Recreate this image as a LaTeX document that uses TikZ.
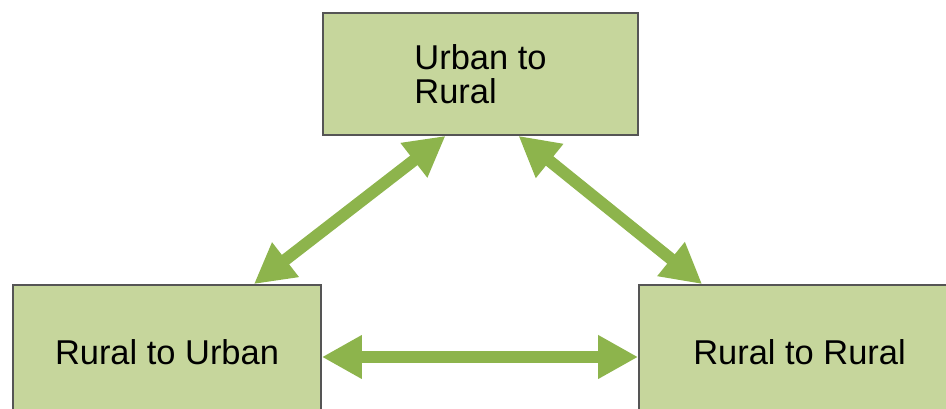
\documentclass[tikz,border=0pt]{standalone}
\usepackage{fontspec}
\setmainfont{Liberation Sans}
\usepackage{tikz}
\usetikzlibrary{arrows.meta,positioning,calc}
\definecolor{boxgreen}{RGB}{198,214,156}
\definecolor{arrowgreen}{RGB}{141,180,76}
\definecolor{edgegray}{RGB}{85,85,85}
\tikzset{
  area/.style={draw=edgegray, line width=1pt, fill=boxgreen, inner sep=0pt,
    font=\fontsize{19.6}{19.5}\selectfont},
  flow/.style={draw=arrowgreen, line width=0.24cm,
    {Triangle[width=0.82cm,length=0.8cm]}-{Triangle[width=0.82cm,length=0.8cm]},
    shorten <=0pt, shorten >=0pt}
}

\begin{document}
\begin{tikzpicture}
  \useasboundingbox (0,0) rectangle (18.92,8.18);

  % 箱の描画
  \node[area, minimum width=6.30cm, minimum height=2.44cm, align=left] (ur) at (9.61,6.70) {Urban to\\Rural};
  \node[area, minimum width=6.16cm, minimum height=2.70cm] (ru) at (3.34,1.13) {Rural to Urban};
  \node[area, minimum width=6.42cm, minimum height=2.70cm] (rr) at (15.99,1.13) {Rural to Rural};

  % 矢印の端点
  \coordinate (urL) at ([xshift=-0.70cm]ur.south);
  \coordinate (urR) at ([xshift=0.76cm]ur.south);
  \coordinate (ruT) at ([xshift=-1.36cm]ru.north east);
  \coordinate (rrT) at ([xshift=1.28cm]rr.north west);

  % 双方向の矢印
  \draw[flow] (ruT) -- (urL);
  \draw[flow] (urR) -- (rrT);
  \draw[flow] ([yshift=-0.09cm]ru.east) -- ([yshift=-0.09cm]rr.west);
\end{tikzpicture}
\end{document}
